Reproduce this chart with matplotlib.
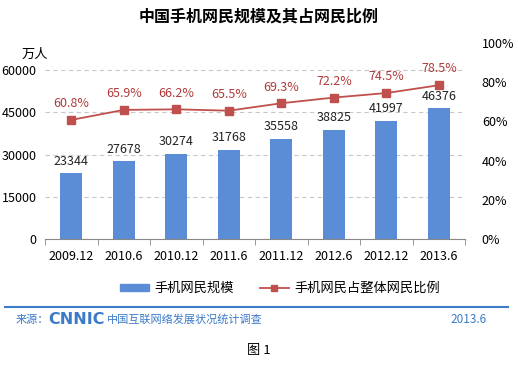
import numpy as np
import matplotlib.pyplot as plt

plt.rcParams['font.family'] = ['Noto Sans CJK SC', 'DejaVu Sans']

periods = ['2009.12', '2010.6', '2010.12', '2011.6', '2011.12', '2012.6', '2012.12', '2013.6']
users = [23344, 27678, 30274, 31768, 35558, 38825, 41997, 46376]  # 万人
share = [60.8, 65.9, 66.2, 65.5, 69.3, 72.2, 74.5, 78.5]  # %

bar_color = '#5B8DD6'
line_color = '#C0504D'
blue_text = '#3B7BC8'

fig = plt.figure(figsize=(5.18, 3.65), dpi=100)
fig.patch.set_facecolor('white')
ax = fig.add_axes([0.087, 0.345, 0.811, 0.537])
ax2 = ax.twinx()

x = np.arange(len(periods))
ax.bar(x, users, width=0.42, color=bar_color, zorder=2)
for xi, v in zip(x, users):
    ax.annotate(str(v), (xi, v), xytext=(0, 4), textcoords='offset points',
                ha='center', va='bottom', fontsize=9, color='#222222')

ax.set_xlim(-0.5, len(periods) - 0.5)
ax.set_ylim(0, 60000 * 196 / 169)
ax.set_yticks(np.arange(0, 60001, 15000))
ax.set_yticklabels([str(t) for t in range(0, 60001, 15000)], fontsize=9)
ax.yaxis.grid(True, linestyle=(0, (4, 3)), color='#C8C8C8', linewidth=0.8)
ax.set_axisbelow(True)
ax.tick_params(axis='y', length=0, pad=6)
ax.set_xticks(x)
ax.set_xticklabels(periods, fontsize=9)
ax.set_xticks(np.arange(-0.5, len(periods), 1), minor=True)
ax.tick_params(axis='x', which='major', length=0, pad=8)
ax.tick_params(axis='x', which='minor', length=4, direction='out', color='#888888')
for s in ['top', 'left', 'right']:
    ax.spines[s].set_visible(False)
ax.spines['bottom'].set_color('#888888')

ax2.plot(x, share, color=line_color, marker='s', markersize=6, linewidth=1.3, zorder=3)
for xi, v in zip(x, share):
    ax2.annotate(f'{v}%', (xi, v), xytext=(0, 7), textcoords='offset points',
                 ha='center', va='bottom', fontsize=9, color='#B03A3A')
ax2.set_ylim(0, 100)
ax2.set_yticks(np.arange(0, 101, 20))
ax2.set_yticklabels([f'{t}%' for t in range(0, 101, 20)], fontsize=9)
ax2.tick_params(axis='y', length=0, pad=12)
for s in ['top', 'left', 'right', 'bottom']:
    ax2.spines[s].set_visible(False)

fig.text(0.5, 0.955, '中国手机网民规模及其占网民比例', ha='center', va='center',
         fontsize=11.5, fontweight='bold')
fig.text(0.068, 0.85, '万人', ha='center', va='center', fontsize=9.5)

# legend
h1 = plt.Rectangle((0, 0), 1, 1, color=bar_color)
h2, = ax2.plot([], [], color=line_color, marker='s', markersize=5, linewidth=1.3)
fig.legend([h1, h2], ['手机网民规模', '手机网民占整体网民比例'], loc='center',
           bbox_to_anchor=(0.54, 0.21), ncol=2, frameon=False, fontsize=9.5,
           handlelength=2.2, handleheight=0.45, handletextpad=0.4, columnspacing=2.0)

# footer
fig.add_artist(plt.Line2D([0.01, 0.98], [0.158, 0.158], color=blue_text, linewidth=1.5))
fig.text(0.03, 0.124, '来源：', ha='left', va='center', fontsize=8, color=blue_text)
fig.text(0.094, 0.124, 'CNNIC', ha='left', va='center', fontsize=11.5, color=blue_text,
         fontweight='bold', family='DejaVu Sans')
fig.text(0.207, 0.124, '中国互联网络发展状况统计调查', ha='left', va='center',
         fontsize=8, color=blue_text)
fig.text(0.94, 0.124, '2013.6', ha='right', va='center', fontsize=8.5, color=blue_text)
fig.text(0.5, 0.04, '图 1', ha='center', va='center', fontsize=9.5,
         family=['Noto Sans CJK SC'])

fig.savefig('out.png', dpi=100)
